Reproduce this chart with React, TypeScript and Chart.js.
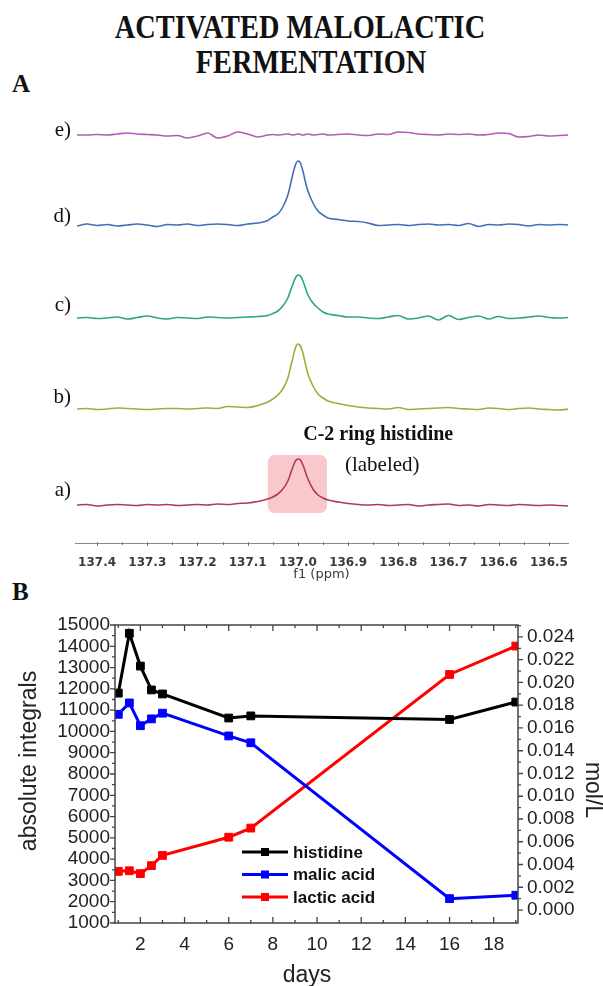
import React, { useEffect, useRef } from "react";
import { Chart, registerables } from "chart.js";

Chart.register(...registerables);

// ---------------- Panel A : 13C spectra (C-2 ring histidine) ----------------
const ppm = [
  137.44, 137.42, 137.4, 137.38, 137.36, 137.34, 137.32, 137.3, 137.28, 137.26,
  137.24, 137.22, 137.2, 137.18, 137.16, 137.14, 137.12, 137.1, 137.08, 137.06,
  137.05, 137.04, 137.03, 137.02, 137.015, 137.01, 137.005, 137.0, 136.995, 136.99,
  136.985, 136.98, 136.97, 136.96, 136.95, 136.94, 136.92, 136.9, 136.88, 136.86,
  136.84, 136.82, 136.8, 136.78, 136.76, 136.74, 136.72, 136.7, 136.68, 136.66,
  136.64, 136.62, 136.6, 136.58, 136.56, 136.54, 136.52, 136.5, 136.48, 136.46,
];

const spectrumA = [
  0, 0.5, -1, 0, 0.5, 0, -0.5, 0.5, 0, 0.5,
  -0.5, 0, 0.5, 0, 1, 0.5, 1.5, 2, 3.5, 6,
  8, 11, 16, 24, 31, 38, 44, 46, 45, 40,
  33, 26, 16, 10, 7, 5, 3, 1.5, 0.5, 0,
  0.5, -0.5, 0, 0.5, -1, 0, 0.5, 1, -0.5, 0,
  -1, 0.5, 0, -0.5, 0.5, 0, -0.5, 0, -0.5, -1,
];
const spectrumB = [
  0, 0.5, -0.5, 0, 1, 0.5, 0, -0.5, 0, 0.5,
  0.5, 0, 0.5, 1, 0.5, 2.5, 2, 1.5, 3.5, 7,
  10, 14, 20, 31, 41, 51, 61, 65, 63, 56,
  45, 35, 23, 15, 11, 8, 5.5, 3.5, 2, 1,
  0.5, 0, 1.5, -0.5, 0, 0.5, 1, 1.5, 0.5, 0,
  -0.5, 1, 0.5, -0.5, 0.5, 1, 0, -0.5, -1, 0,
];
const spectrumC = [
  0, 0.5, -0.5, 0, 1, -1, 0.5, 2, 0, -1,
  0.5, 0, -0.5, 1, 0.5, 0, 0.5, 1, 1.5, 2.5,
  4.5, 7, 12, 20, 27, 34, 40, 43, 42, 37,
  30, 23, 15, 10, 6, 4, 2.5, 1, 1, 0,
  -0.5, 1, 2.5, -1, 0, 2, -2, 2.5, -1.5, 0.5,
  2, -1, 1.5, -0.5, 0, 1, 2, 0.5, 0, 0.5,
];
const spectrumD = [
  -1, 1, -0.5, 0.5, -1, 0, 1, 0, -1.5, 0.5,
  0, 1, -0.5, 0.5, 1, 0.5, -0.5, 1, 2, 4.5,
  8, 11, 18, 30, 40, 51, 60, 64, 62, 54,
  43, 34, 22, 14, 10, 7, 5.5, 4, 3.5, 2,
  -0.5, 0, 0.5, -0.5, 0.5, 1, 0, 0.5, -0.5, 1.5,
  -1.5, 0.5, 0, 1, 0.5, -1, 0.5, 0, 0.5, 0,
];
const spectrumE = [
  0, 0, 0.5, 0, 1, 2, 1, 0.5, 0, -1,
  -0.5, -3, -1, 2, -3, -1, 3, 1, -2, 0,
  0.5, 0, 0.5, 1, 0.5, 0, 0.5, 1, 0.5, 0,
  0.5, 1, 0, 0.5, 1, 0, 0.5, 1, 0, -0.5,
  1, 0.5, 3, 2.5, 1, 0.5, 0, 1, 0.5, 1,
  0, 0.5, 2, 1.5, -2, -1.5, 0, -1, -0.5, 0,
];
const spectrumLabels = ["a)", "b)", "c)", "d)", "e)"];
const ppmTicks = [137.4, 137.3, 137.2, 137.1, 137.0, 136.9, 136.8, 136.7, 136.6, 136.5];
const highlightPpm = [137.06, 136.942];
const highlightIntensity = [-8, 50];
const annotationLines = ["C-2 ring histidine", "(labeled)"];

// layout constants for panel A (stacking of the spectra)
const stackOffsets = [38, 134, 225, 318, 408];
const labelLift = [15, 12, 13, 9, 5];
const spectrumColors = ["#b23a52", "#a8aa38", "#2fa67c", "#3f70b6", "#b25cb8"];

// ---------------- Panel B : time course ----------------
const days = [1, 1.5, 2, 2.5, 3, 6, 7, 16, 19];
const histidine = [11800, 14610, 13070, 11950, 11760, 10630, 10730, 10560, 11380];
const malicAcid = [0.0172, 0.0182, 0.0162, 0.0168, 0.0173, 0.0153, 0.0147, 0.001, 0.0013];
const lacticAcid = [0.0034, 0.00345, 0.0032, 0.0039, 0.0048, 0.0064, 0.0072, 0.0207, 0.0232];
const seriesNames = ["histidine", "malic acid", "lactic acid"];
const dayTicks = [2, 4, 6, 8, 10, 12, 14, 16, 18];
const integralTicks = [1000, 2000, 3000, 4000, 5000, 6000, 7000, 8000, 9000, 10000, 11000, 12000, 13000, 14000, 15000];
const molTicks = [0, 0.002, 0.004, 0.006, 0.008, 0.01, 0.012, 0.014, 0.016, 0.018, 0.02, 0.022, 0.024];

function PanelA() {
  const ref = useRef<HTMLCanvasElement>(null);
  useEffect(() => {
    if (!ref.current) return;
    const series = [spectrumA, spectrumB, spectrumC, spectrumD, spectrumE];
    const datasets = series.map((s, k) => ({
      label: spectrumLabels[k],
      data: s.map((v, i) => ({ x: ppm[i], y: stackOffsets[k] + v })),
      borderColor: spectrumColors[k],
      borderWidth: 1.6,
      pointRadius: 0,
      cubicInterpolationMode: "monotone" as const,
      fill: false,
    }));
    const plugin = {
      id: "panelADecor",
      beforeDatasetsDraw(chart: any) {
        const { ctx, scales } = chart;
        const x = scales.x, y = scales.y;
        const x0 = x.getPixelForValue(highlightPpm[0]);
        const x1 = x.getPixelForValue(highlightPpm[1]);
        const y0 = y.getPixelForValue(stackOffsets[0] + highlightIntensity[1]);
        const y1 = y.getPixelForValue(stackOffsets[0] + highlightIntensity[0]);
        ctx.save();
        ctx.fillStyle = "#f8c8cd";
        ctx.beginPath();
        if ((ctx as any).roundRect) (ctx as any).roundRect(x0, y0, x1 - x0, y1 - y0, 7);
        else ctx.rect(x0, y0, x1 - x0, y1 - y0);
        ctx.fill();
        ctx.restore();
      },
      afterDraw(chart: any) {
        const { ctx, scales, chartArea } = chart;
        const x = scales.x, y = scales.y;
        ctx.save();
        // tick marks
        ctx.strokeStyle = "#777";
        ctx.lineWidth = 1;
        ctx.beginPath();
        for (let k = 0; k <= 20; k++) {
          const v = 136.45 + k * 0.05;
          if (v < x.min || v > x.max) continue;
          const p = Math.round(x.getPixelForValue(v)) + 0.5;
          const L = k % 2 === 1 ? 3 : 2;
          ctx.moveTo(p, chartArea.bottom - 1);
          ctx.lineTo(p, chartArea.bottom + L);
        }
        ctx.stroke();
        // spectrum labels
        ctx.fillStyle = "#111";
        ctx.font = "21px 'Liberation Serif'";
        ctx.textAlign = "right";
        ctx.textBaseline = "middle";
        spectrumLabels.forEach((lab, k) => {
          ctx.fillText(lab, chartArea.left - 4, y.getPixelForValue(stackOffsets[k] + labelLift[k]));
        });
        // annotation
        ctx.textAlign = "center";
        const ax = x.getPixelForValue(136.84);
        ctx.font = "bold 20px 'Liberation Serif'";
        ctx.fillText(annotationLines[0], ax, y.getPixelForValue(108));
        ctx.font = "21px 'Liberation Serif'";
        ctx.fillText(annotationLines[1], ax + 4, y.getPixelForValue(78));
        ctx.restore();
      },
    };
    const chart = new Chart(ref.current, {
      type: "line",
      data: { datasets: datasets as any },
      options: {
        animation: false,
        responsive: false,
        maintainAspectRatio: false,
        layout: { padding: { left: 75, right: 35, top: 0, bottom: 0 } },
        plugins: { legend: { display: false }, tooltip: { enabled: false } },
        scales: {
          x: {
            type: "linear",
            reverse: true,
            min: 136.462,
            max: 137.444,
            afterFit: (s: any) => { s.height = 47; },
            afterBuildTicks: (s: any) => { s.ticks = ppmTicks.map((v) => ({ value: v })); },
            grid: { drawOnChartArea: false, drawTicks: false },
            border: { display: true, color: "#888", width: 1 },
            ticks: {
              autoSkip: false,
              maxRotation: 0,
              padding: 13,
              color: "#3a3a3a",
              font: { family: "'DejaVu Sans'", size: 12, weight: "bold" },
              callback: (v: any) => Number(v).toFixed(1),
            },
            title: {
              display: true,
              text: "f1 (ppm)",
              color: "#3a3a3a",
              font: { family: "'DejaVu Sans'", size: 13 },
              padding: { top: 0, bottom: 8 },
            },
          },
          y: { display: false, min: 0, max: 443 },
        },
      },
      plugins: [plugin],
    });
    return () => chart.destroy();
  }, []);
  return (
    <canvas
      ref={ref}
      width={603}
      height={490}
      style={{ position: "absolute", left: 0, top: 100, width: 603, height: 490 }}
    />
  );
}

function PanelB() {
  const ref = useRef<HTMLCanvasElement>(null);
  useEffect(() => {
    if (!ref.current) return;
    const colors = ["#000000", "#0000ff", "#ff0000"];
    const mk = (vals: number[], k: number, axis: string) => ({
      label: seriesNames[k],
      data: vals.map((v, i) => ({ x: days[i], y: v })),
      yAxisID: axis,
      borderColor: colors[k],
      backgroundColor: colors[k],
      pointBackgroundColor: colors[k],
      pointBorderColor: colors[k],
      borderWidth: 3,
      pointStyle: "rect",
      pointRadius: 5.5,
      pointBorderWidth: 1,
      tension: 0,
      fill: false,
    });
    const font19 = { family: "'Liberation Sans'", size: 19 };
    const plugin = {
      id: "panelBDecor",
      afterDraw(chart: any) {
        const { ctx, chartArea, scales } = chart;
        const { left, right, top, bottom } = chartArea;
        const x = scales.x, y = scales.y, y1 = scales.y1;
        ctx.save();
        ctx.strokeStyle = "#444";
        ctx.lineWidth = 1.5;
        ctx.strokeRect(left, top, right - left, bottom - top);
        ctx.lineWidth = 1.3;
        ctx.beginPath();
        for (let k = 2; k <= 30; k++) {
          const v = k * 500;
          const p = y.getPixelForValue(v);
          const L = k % 2 === 0 ? 5 : 3;
          ctx.moveTo(left, p);
          ctx.lineTo(left - L, p);
        }
        for (let k = 0; k <= 25; k++) {
          const p = y1.getPixelForValue(k * 0.001);
          if (p < top - 0.5) continue;
          const L = k % 2 === 0 ? 5 : 3;
          ctx.moveTo(right, p);
          ctx.lineTo(right + L, p);
        }
        for (let d = 1; d <= 19; d++) {
          const p = x.getPixelForValue(d);
          const L = d % 2 === 0 ? 6 : 3;
          ctx.moveTo(p, bottom);
          ctx.lineTo(p, bottom - L);
          ctx.moveTo(p, top);
          ctx.lineTo(p, top + L);
        }
        ctx.stroke();

        // legend
        const lx = left + 127;
        const ly = top + 227;
        ctx.font = "bold 17px 'Liberation Sans'";
        ctx.textBaseline = "middle";
        ctx.textAlign = "left";
        chart.data.datasets.forEach((ds: any, i: number) => {
          const yy = ly + i * 22.5;
          ctx.strokeStyle = ds.borderColor;
          ctx.lineWidth = 3;
          ctx.beginPath();
          ctx.moveTo(lx, yy);
          ctx.lineTo(lx + 46, yy);
          ctx.stroke();
          ctx.fillStyle = ds.borderColor;
          ctx.fillRect(lx + 23 - 4, yy - 4, 8, 8);
          ctx.fillStyle = "#111";
          ctx.fillText(ds.label, lx + 51, yy + 1);
        });

        // axis titles
        ctx.fillStyle = "#222";
        ctx.font = "23px 'Liberation Sans'";
        ctx.textAlign = "center";
        ctx.textBaseline = "middle";
        ctx.save();
        ctx.translate(30, 171);
        ctx.rotate(-Math.PI / 2);
        ctx.fillText("absolute integrals", 0, 0);
        ctx.restore();
        ctx.save();
        ctx.translate(592, 200);
        ctx.rotate(Math.PI / 2);
        ctx.fillText("mol/L", 0, 0);
        ctx.restore();
        ctx.fillText("days", 307, 386);
        ctx.restore();
      },
    };
    const chart = new Chart(ref.current, {
      type: "line",
      data: {
        datasets: [
          mk(histidine, 0, "y"),
          mk(malicAcid, 1, "y1"),
          mk(lacticAcid, 2, "y1"),
        ] as any,
      },
      options: {
        animation: false,
        responsive: false,
        maintainAspectRatio: false,
        layout: { padding: { left: 0, right: 0, top: 35, bottom: 0 } },
        plugins: { legend: { display: false }, tooltip: { enabled: false } },
        scales: {
          x: {
            type: "linear",
            min: 0.85,
            max: 19.1,
            afterFit: (s: any) => { s.height = 63; },
            afterBuildTicks: (s: any) => { s.ticks = dayTicks.map((v) => ({ value: v })); },
            grid: { drawOnChartArea: false, drawTicks: false },
            border: { display: false },
            ticks: { autoSkip: false, maxRotation: 0, padding: 10, color: "#222", font: font19, callback: (v: any) => String(v) },
          },
          y: {
            type: "linear",
            position: "left",
            min: 1000,
            max: 15000,
            afterFit: (s: any) => { s.width = 115; },
            afterBuildTicks: (s: any) => { s.ticks = integralTicks.map((v) => ({ value: v })); },
            grid: { drawOnChartArea: false, drawTicks: false },
            border: { display: false },
            ticks: { autoSkip: false, padding: 5, color: "#222", font: font19, callback: (v: any) => String(v) },
          },
          y1: {
            type: "linear",
            position: "right",
            min: -0.00114,
            max: 0.02505,
            afterFit: (s: any) => { s.width = 85; },
            afterBuildTicks: (s: any) => { s.ticks = molTicks.map((v) => ({ value: v })); },
            grid: { drawOnChartArea: false, drawTicks: false },
            border: { display: false },
            ticks: { autoSkip: false, padding: 9, color: "#222", font: font19, callback: (v: any) => Number(v).toFixed(3) },
          },
        },
      },
      plugins: [plugin],
    });
    return () => chart.destroy();
  }, []);
  return (
    <canvas
      ref={ref}
      width={603}
      height={396}
      style={{ position: "absolute", left: 0, top: 590, width: 603, height: 396 }}
    />
  );
}

export default function App() {
  const serifBold: React.CSSProperties = {
    fontFamily: "'Liberation Serif', 'Times New Roman', serif",
    fontWeight: "bold",
    color: "#111",
    position: "absolute",
    whiteSpace: "nowrap",
  };
  return (
    <div style={{ position: "absolute", left: 0, top: 0, width: 603, height: 986, background: "#fff", overflow: "hidden" }}>
      <div style={{ ...serifBold, left: 0, width: 600, top: 10, textAlign: "center", fontSize: 33, lineHeight: "35px", transform: "scaleX(0.86)" }}>
        ACTIVATED MALOLACTIC
      </div>
      <div style={{ ...serifBold, left: 0, width: 622, top: 45, textAlign: "center", fontSize: 33, lineHeight: "35px", transform: "scaleX(0.86)" }}>
        FERMENTATION
      </div>
      <div style={{ ...serifBold, left: 12, top: 70, fontSize: 25, lineHeight: "28px" }}>A</div>
      <div style={{ ...serifBold, left: 12, top: 578, fontSize: 25, lineHeight: "28px" }}>B</div>
      <PanelA />
      <PanelB />
    </div>
  );
}
